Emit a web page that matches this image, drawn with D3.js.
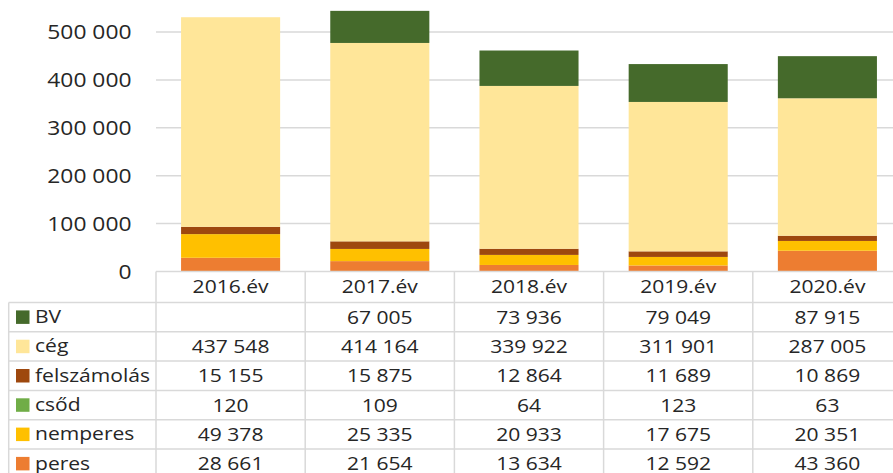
<!DOCTYPE html>
<html>
<head>
<meta charset="utf-8">
<script src="https://cdn.jsdelivr.net/npm/d3@7"></script>
<style>
  body { margin: 0; background: #fff; }
  svg text { font-family: "Open Sans", sans-serif; fill: #262626; }
</style>
</head>
<body>
<svg id="main_svg" width="893" height="473"></svg>
<script>
// adatok
const years = ["2016.év", "2017.év", "2018.év", "2019.év", "2020.év"];
const seriesNames = ["BV", "cég", "felszámolás", "csőd", "nemperes", "peres"];
const bv = [null, 67005, 73936, 79049, 87915];
const ceg = [437548, 414164, 339922, 311901, 287005];
const felszamolas = [15155, 15875, 12864, 11689, 10869];
const csod = [120, 109, 64, 123, 63];
const nemperes = [49378, 25335, 20933, 17675, 20351];
const peres = [28661, 21654, 13634, 12592, 43360];
const yTicks = [0, 100000, 200000, 300000, 400000, 500000];
const colors = ["#456a2b", "#ffe699", "#9e480e", "#70ad47", "#ffc000", "#ed7d31"];

const values = [bv, ceg, felszamolas, csod, nemperes, peres];

// tábla sorai évenként
let rows = years.map(function (yr, i) {
    let r = { year: yr };
    seriesNames.forEach(function (s, k) { r[s] = values[k][i] || 0; });
    return r;
});

const stretch = 1.17; // a kép vízszintesen nyújtott
const huLocale = d3.formatLocale({ decimal: ",", thousands: " ", grouping: [3], currency: ["", ""] });
const fmt = huLocale.format(",d");

let svg = d3.select("#main_svg");

const left = 156, right = 902, bottomY = 271.5, topY = 32;
const gridColor = "#d9d9d9";

let x = d3.scaleBand().domain(years).range([left, right]).paddingInner(0.336).paddingOuter(0.168);
let y = d3.scaleLinear().domain([0, 500000]).range([bottomY, topY]);

// rácsvonalak
svg.append("g").selectAll("line")
   .data(yTicks.filter(d => d > 0))
   .join("line")
   .attr("x1", left).attr("x2", 893)
   .attr("y1", d => y(d)).attr("y2", d => y(d))
   .attr("stroke", gridColor).attr("stroke-width", 1.5);

// tengelyfeliratok
svg.append("g").selectAll("text")
   .data(yTicks)
   .join("text")
   .attr("text-anchor", "end")
   .attr("font-size", 19.5)
   .attr("transform", d => "translate(131.5," + (y(d) + 7) + ") scale(" + stretch + ",1)")
   .text(d => fmt(d));

// oszlopok
let stackKeys = seriesNames.slice().reverse();
let stacked = d3.stack().keys(stackKeys)(rows);

svg.append("g").selectAll("g")
   .data(stacked)
   .join("g")
   .attr("fill", d => colors[seriesNames.indexOf(d.key)])
   .selectAll("rect")
   .data(d => d)
   .join("rect")
   .attr("x", d => x(d.data.year))
   .attr("width", x.bandwidth())
   .attr("y", d => y(d[1]))
   .attr("height", d => y(d[0]) - y(d[1]));

// adattábla
const headerBottom = 302.5, rowH = 29.3, tableLeft = 8.7;
let colW = x.step();
let tableBottom = headerBottom + rowH * seriesNames.length;

let table = svg.append("g");

// vízszintes vonalak
table.append("line")
     .attr("x1", left).attr("x2", 893)
     .attr("y1", bottomY).attr("y2", bottomY)
     .attr("stroke", gridColor).attr("stroke-width", 1.5);
for (let i = 0; i <= seriesNames.length; i++) {
    table.append("line")
         .attr("x1", tableLeft).attr("x2", 893)
         .attr("y1", headerBottom + i * rowH).attr("y2", headerBottom + i * rowH)
         .attr("stroke", gridColor).attr("stroke-width", 1.5);
}
// függőleges vonalak
table.append("line")
     .attr("x1", tableLeft).attr("x2", tableLeft)
     .attr("y1", headerBottom).attr("y2", tableBottom)
     .attr("stroke", gridColor).attr("stroke-width", 1.5);
for (let i = 0; i <= years.length; i++) {
    table.append("line")
         .attr("x1", left + i * colW).attr("x2", left + i * colW)
         .attr("y1", bottomY).attr("y2", tableBottom)
         .attr("stroke", gridColor).attr("stroke-width", 1.5);
}

// fejléc
table.selectAll("text.head")
     .data(years)
     .join("text")
     .attr("class", "head")
     .attr("text-anchor", "middle")
     .attr("font-size", 18)
     .attr("transform", d => "translate(" + (x(d) + x.bandwidth() / 2) + "," + ((bottomY + headerBottom) / 2 + 6) + ") scale(" + stretch + ",1)")
     .text(d => d);

// sorok
seriesNames.forEach(function (s, k) {
    let cy = headerBottom + k * rowH + rowH / 2;
    table.append("rect")
         .attr("x", 16).attr("y", cy - 6.75)
         .attr("width", 13.5).attr("height", 13.5)
         .attr("fill", colors[k]);
    table.append("text")
         .attr("font-size", 18)
         .attr("transform", "translate(35," + (cy + 6) + ") scale(" + stretch + ",1)")
         .text(s);
    table.selectAll("text.v" + k)
         .data(values[k])
         .join("text")
         .attr("class", "v" + k)
         .attr("text-anchor", "middle")
         .attr("font-size", 18)
         .attr("transform", (d, i) => "translate(" + (x(years[i]) + x.bandwidth() / 2) + "," + (cy + 6.5) + ") scale(" + stretch + ",1)")
         .text(d => d == null ? "" : fmt(d));
});
</script>
</body>
</html>
